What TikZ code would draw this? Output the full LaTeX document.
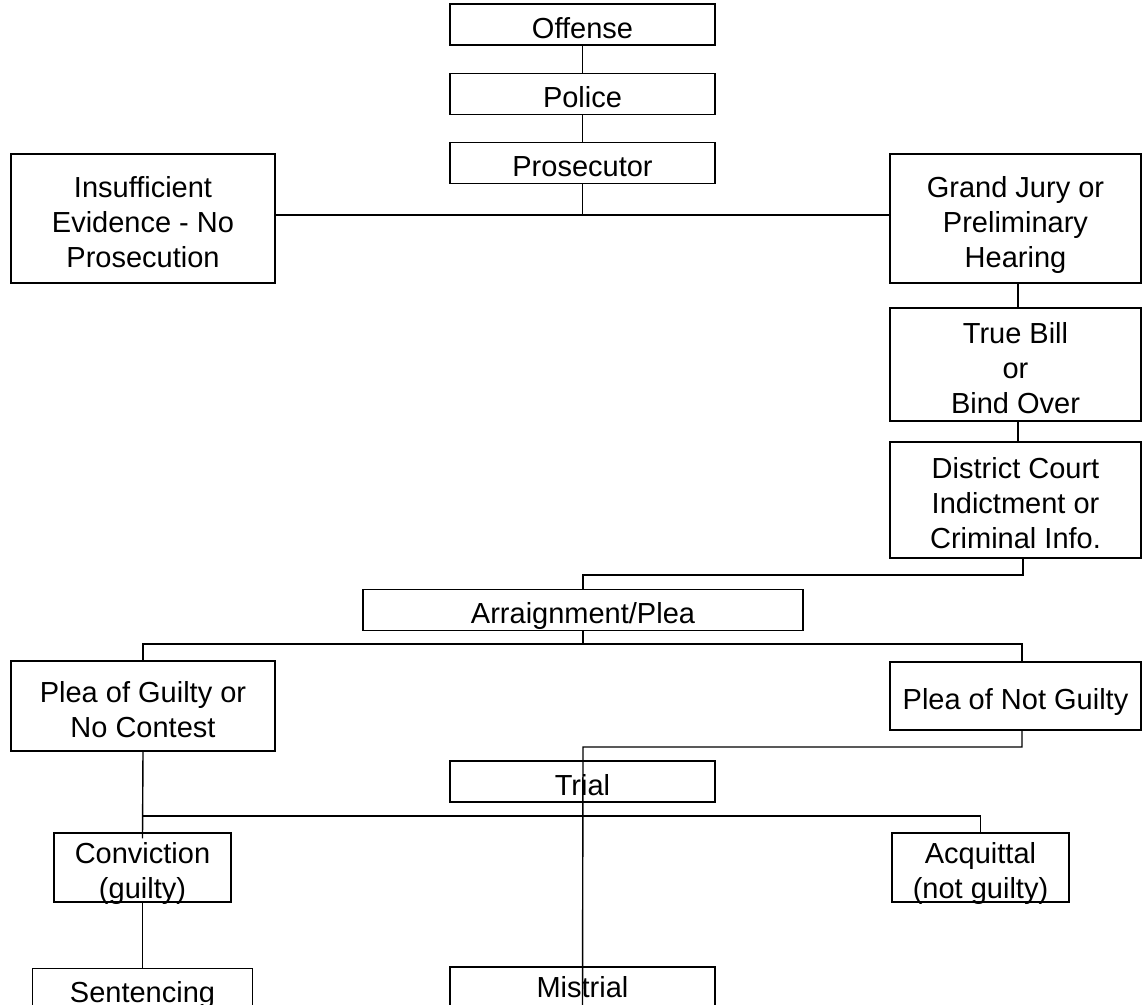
\documentclass[tikz,border=0pt]{standalone}
\usepackage{fontspec}
\setmainfont{Liberation Sans}
\newcommand\fst{\rule{0pt}{34pt}}
\newcommand\lst{\rule[-7pt]{0pt}{7pt}}
\begin{document}
\begin{tikzpicture}[x=1pt,y=-1pt,
  boxn/.style={draw, line width=1.4pt, inner sep=0pt, align=center,
    font=\fontsize{29}{35}\selectfont},
  conn/.style={line width=1.4pt}]
\useasboundingbox (0,0) rectangle (1143,1004);
\clip (0,0) rectangle (1143,1004);
% boxes
\node[boxn, minimum width=265pt, minimum height=35pt] (off) at (582.5,24.5) {\fst Offense\lst};
\node[boxn, minimum width=265pt, minimum height=34pt] (pol) at (582.5,94) {\fst Police\lst};
\node[boxn, minimum width=265pt, minimum height=34pt] (pros) at (582.5,163) {\fst Prosecutor\lst};
\node[boxn, minimum width=264pt, minimum height=129pt] (insuf) at (143,218.5) {\fst Insufficient\\Evidence - No\\Prosecution\lst};
\node[boxn, minimum width=251pt, minimum height=129pt] (grand) at (1015.5,218.5) {\fst Grand Jury or\\Preliminary\\Hearing\lst};
\node[boxn, minimum width=251pt, minimum height=113pt] (true) at (1015.5,364.5) {\fst True Bill\\or\\Bind Over\lst};
\node[boxn, minimum width=251pt, minimum height=116pt] (dist) at (1015.5,500) {\fst District Court\\Indictment or\\Criminal Info.\lst};
\node[boxn, minimum width=440pt, minimum height=34pt] (arr) at (583,610) {\fst Arraignment/Plea\lst};
\node[boxn, minimum width=264pt, minimum height=90pt] (pg) at (143,706) {\fst Plea of Guilty or\\No Contest\lst};
\node[boxn, minimum width=251pt, minimum height=68pt] (png) at (1015.5,696) {\fst Plea of Not Guilty\lst};
\node[boxn, minimum width=265pt, minimum height=35pt] (trial) at (582.5,781.5) {\fst Trial\lst};
\node[boxn, minimum width=177pt, minimum height=69pt] (conv) at (142.5,867.5) {\rule{0pt}{30pt}Conviction\\\smash{(guilty)}\rule[-4pt]{0pt}{4pt}};
\node[boxn, minimum width=177pt, minimum height=69pt] (acq) at (980.5,867.5) {\rule{0pt}{30pt}Acquittal\\\smash{(not guilty)}\rule[-4pt]{0pt}{4pt}};
\node[boxn, minimum width=220pt, minimum height=36pt] (sent) at (142.5,989) {\fst Sentencing\lst};
\node[boxn, minimum width=265pt, minimum height=44pt] (mis) at (582.5,989) {\rule{0pt}{23pt}Mistrial\lst};
% connectors
\coordinate (j1) at (582.5,215);
\coordinate (j2) at (583,575);
\coordinate (j3) at (583,644);
\coordinate (j4) at (583,747);
\coordinate (j5) at (143,816);
\draw[conn] (off.south) -- (pol.north);
\draw[conn] (pol.south) -- (pros.north);
\draw[conn] (pros.south) -- (j1);
\draw[conn] (insuf.east |- j1) -- (grand.west |- j1);
\draw[conn] ([xshift=2.5pt]grand.south) -- ([xshift=2.5pt]true.north);
\draw[conn] ([xshift=2.5pt]true.south) -- ([xshift=2.5pt]dist.north);
\draw[conn] ([xshift=7.5pt]dist.south) |- (j2) -- (arr.north);
\draw[conn] (arr.south) -- (j3);
\draw[conn] (pg.north) |- (j3) -| ([xshift=6.5pt]png.north);
\draw[conn] ([xshift=6.5pt]png.south) |- (j4) -- (mis.south);
\draw[conn] (pg.south) -- ([yshift=-6pt]conv.north);
\draw[conn] (j5) -| (acq.north);
\draw[conn] (conv.south) -- (sent.north);
\end{tikzpicture}
\end{document}
